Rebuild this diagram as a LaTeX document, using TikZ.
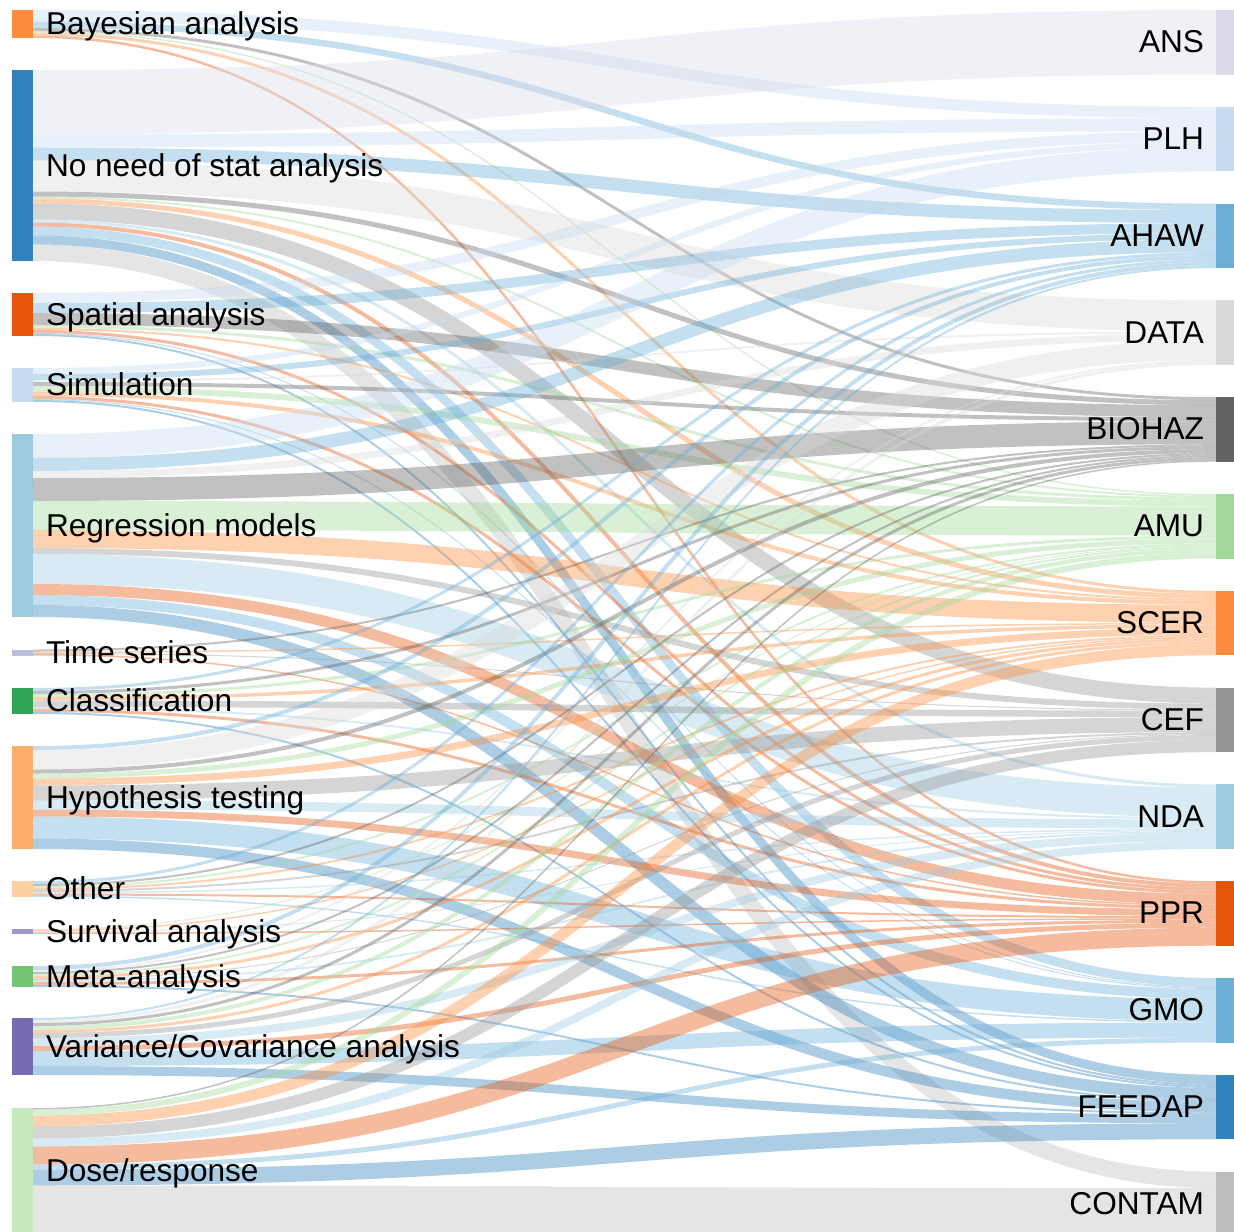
\documentclass[tikz,border=0pt]{standalone}
\usepackage{fontspec}
\setmainfont{Liberation Sans}
% committee (target) colours
\definecolor{tc0}{HTML}{DADAEB}
\definecolor{tc1}{HTML}{C6DBEF}
\definecolor{tc2}{HTML}{6BAED6}
\definecolor{tc3}{HTML}{D9D9D9}
\definecolor{tc4}{HTML}{636363}
\definecolor{tc5}{HTML}{A1D99B}
\definecolor{tc6}{HTML}{FD8D3C}
\definecolor{tc7}{HTML}{969696}
\definecolor{tc8}{HTML}{9ECAE1}
\definecolor{tc9}{HTML}{E6550D}
\definecolor{tc10}{HTML}{6BAED6}
\definecolor{tc11}{HTML}{3182BD}
\definecolor{tc12}{HTML}{BDBDBD}
% method (source) colours
\definecolor{sc1}{HTML}{FD8D3C}
\definecolor{sc2}{HTML}{3182BD}
\definecolor{sc3}{HTML}{E6550D}
\definecolor{sc4}{HTML}{C6DBEF}
\definecolor{sc5}{HTML}{9ECAE1}
\definecolor{sc6}{HTML}{BCBDDC}
\definecolor{sc7}{HTML}{31A354}
\definecolor{sc8}{HTML}{FDAE6B}
\definecolor{sc9}{HTML}{FDD0A2}
\definecolor{sc10}{HTML}{9E9AC8}
\definecolor{sc11}{HTML}{74C476}
\definecolor{sc12}{HTML}{756BB1}
\definecolor{sc13}{HTML}{C7E9C0}

\tikzset{
  flow/.style={draw opacity=0.4, line cap=butt},
  bar/.style={inner sep=0pt, outer sep=0pt, anchor=north west, draw=none},
  lab/.style={font=\fontsize{15.8}{18}\selectfont, text=black, inner sep=0pt, outer sep=0pt},
}

% a method bar: index, top, height (px)
\newcommand\srcbar[3]{%
  \node[bar, fill=sc#1, minimum width=10.5pt, minimum height=#3*0.5pt] (s#1) at (12,#2) {};%
}
% all flows leaving one method, one width per committee
\newcommand\flowrow[2]{%
  \xdef\sacc{0}%
  \foreach \w [count=\t from 0] in {#2} {%
    \ifdim\w pt>0pt
      \edef\tacc{\csname tacc\t\endcsname}%
      \pgfmathsetmacro\ya{(\sacc+\w/2)*0.5}%
      \pgfmathsetmacro\yb{(\tacc+\w/2)*0.5}%
      \draw[flow, draw=tc\t, line width=\w*0.5pt]
        ([yshift=-\ya pt]s#1.north east) .. controls +(591.5,0) and +(-591.5,0) .. ([yshift=-\yb pt]t\t.north west);
      \pgfmathsetmacro\tmp{\tacc+\w}%
      \expandafter\xdef\csname tacc\t\endcsname{\tmp}%
      \pgfmathsetmacro\tmp{\sacc+\w}%
      \xdef\sacc{\tmp}%
    \fi
  }%
}

\begin{document}
\begin{tikzpicture}[x=0.5pt,y=-0.5pt]
\useasboundingbox (0,0) rectangle (1234,1231);
\clip (0,0) rectangle (1234,1231);

% method bars
\srcbar{1}{10}{28}
\srcbar{2}{70}{191}
\srcbar{3}{293}{43}
\srcbar{4}{368}{34}
\srcbar{5}{434}{183}
\srcbar{6}{649.5}{6}
\srcbar{7}{688}{26}
\srcbar{8}{746}{103}
\srcbar{9}{881}{16}
\srcbar{10}{929}{5}
\srcbar{11}{966}{21}
\srcbar{12}{1018}{57}
\srcbar{13}{1108}{125.5}

% committee bars
\foreach \t in {0,...,12}{
  \node[bar, fill=tc\t, minimum width=9pt, minimum height=32.25pt] (t\t) at (1216,{10+96.8*\t}) {};
  \expandafter\xdef\csname tacc\t\endcsname{0}
}

% flows: ANS PLH AHAW DATA BIOHAZ AMU SCER CEF NDA PPR GMO FEEDAP CONTAM
\flowrow{1}{0,11.5,6.5,0,3,1.5,3,0,0,2.5,0,0,0}
\flowrow{2}{64.5,13,13,31,5,2,5,16,3,4,9,9,16.5}
\flowrow{3}{0,10,10,0,12,3,2,0,0,3,1,2,0}
\flowrow{4}{0,6,6,2,4,6,4,0,0,3,1,2,0}
\flowrow{5}{0,24,13,7,23,29,18,6,30,11,10,12,0}
\flowrow{6}{0,0,0,0,2,0,1.5,1,0,1.5,0,0,0}
\flowrow{7}{0,0,3,0,3,3,3.5,6.5,2,3,0,2,0}
\flowrow{8}{0,0,4,19.5,4,5,7,15,9,7,22,10.5,0}
\flowrow{9}{0,0,3,0,2,2,2,2,1.5,2,1.5,0,0}
\flowrow{10}{0,0,0,0,0,1,1.5,0,1,1.5,0,0,0}
\flowrow{11}{0,0,4,2,2,2,3,1,2,3,0,2,0}
\flowrow{12}{0,0,2,3,3,4,3,5,8,5,15,9,0}
\flowrow{13}{0,0,0,0,1.5,6,11,12,8,18,5,16,48}

% method labels
\foreach \i/\txt in {1/Bayesian analysis, 2/No need of stat analysis, 3/Spatial analysis,
  4/Simulation, 5/Regression models, 6/Time series, 7/Classification,
  8/Hypothesis testing, 9/Other, 10/Survival analysis, 11/Meta-analysis,
  12/Variance\slash Covariance analysis, 13/Dose\slash response}
  \node[lab, anchor=base west] (ls\i) at ([xshift=6.5pt,yshift=-5.25pt]s\i.east) {\txt};

% committee labels
\foreach \i/\txt in {0/ANS, 1/PLH, 2/AHAW, 3/DATA, 4/BIOHAZ, 5/AMU, 6/SCER,
  7/CEF, 8/NDA, 9/PPR, 10/GMO, 11/FEEDAP, 12/CONTAM}
  \node[lab, anchor=base east] (lt\i) at ([xshift=-6pt,yshift=-5.25pt]t\i.west) {\txt};
\end{tikzpicture}
\end{document}
